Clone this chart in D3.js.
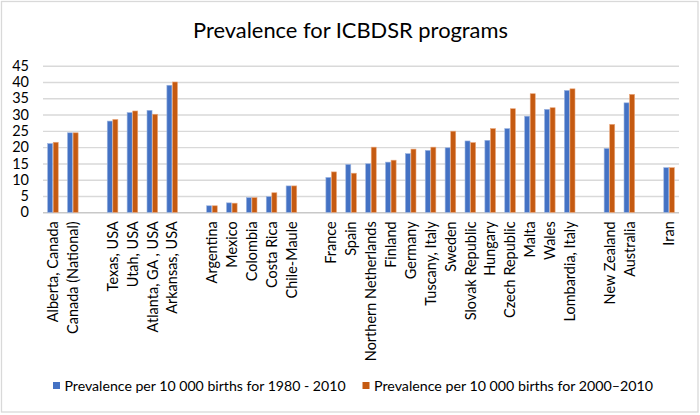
<!DOCTYPE html>
<html><head><meta charset="utf-8">
<script src="https://cdn.jsdelivr.net/npm/d3@7/dist/d3.min.js"></script>
<style>body{margin:0;background:#fff}svg{display:block;font-family:Lato,"Open Sans",sans-serif}</style>
</head><body><svg id="c" width="700" height="415"></svg>
<script>
const title = "Prevalence for ICBDSR programs";
const seriesNames = ["Prevalence per 10 000 births for 1980 - 2010", "Prevalence per 10 000 births for 2000\u20132010"];
const categories = ["Alberta, Canada","Canada (National)","",
  "Texas, USA","Utah, USA","Atlanta, GA , USA","Arkansas, USA","",
  "Argentina","Mexico","Colombia","Costa Rica","Chile-Maule","",
  "France","Spain","Northern Netherlands","Finland","Germany","Tuscany, Italy","Sweden","Slovak Republic","Hungary","Czech Republic","Malta","Wales","Lombardia, Italy","",
  "New Zealand","Australia","","Iran"];
const values1980 = [21.1,24.4,null, 28.0,30.6,31.3,39.0,null, 2.0,2.9,4.5,4.8,8.1,null,
  10.7,14.7,14.9,15.4,18.0,19.0,19.8,21.9,22.1,25.7,29.5,31.6,37.4,null, 19.6,33.6,null,13.7];
const values2000 = [21.5,24.4,null, 28.5,31.1,30.1,40.0,null, 2.0,2.8,4.5,6.0,8.1,null,
  12.4,12.0,20.0,16.0,19.4,20.0,24.9,21.4,25.7,31.8,36.4,32.1,37.9,null, 27.0,36.2,null,13.7];
const yTicks = [0,5,10,15,20,25,30,35,40,45];
const colors = ["#4472C4","#C55A11"];
const strokes = ["#9DB5E0","#E9A67A"];

const svg = d3.select("#c");
svg.append("rect").attr("x",1.5).attr("y",1.5).attr("width",696.5).attr("height",410.5)
  .attr("fill","#fff").attr("stroke","#d9d9d9").attr("stroke-width",1.3);

const m = {l:43, r:679, t:65.7, b:212.3};
const x = d3.scaleBand().domain(d3.range(categories.length)).range([m.l,m.r]).paddingInner(0).paddingOuter(0);
const y = d3.scaleLinear().domain([0,45]).range([m.b,m.t]);
const x1 = d3.scaleBand().domain([0,1]).range([-5.3,5.3]).paddingInner(0.1);

// gridlines
const yAxis = d3.axisLeft(y).tickValues(yTicks).tickSize(-(m.r-m.l)).tickPadding(14);
const gy = svg.append("g").attr("transform",`translate(${m.l},0)`).call(yAxis);
gy.select(".domain").remove();
gy.selectAll(".tick line").attr("stroke","#d9d9d9").attr("stroke-width",1.4);
gy.selectAll(".tick text").attr("fill","#000").style("font-size","14.5px").attr("font-family","Lato,'Open Sans',sans-serif");
gy.selectAll(".tick").filter(d=>d===0).select("line").attr("stroke","#c8c8c8");

// bars
const series = [values1980, values2000];
series.forEach((vals,si)=>{
  svg.append("g").selectAll("rect").data(vals.map((v,i)=>({v,i})).filter(d=>d.v!=null)).join("rect")
    .attr("x",d=>x(d.i)+x.bandwidth()/2+x1(si))
    .attr("width",x1.bandwidth())
    .attr("y",d=>y(d.v))
    .attr("height",d=>y(0)-y(d.v))
    .attr("fill",colors[si]).attr("stroke",strokes[si]).attr("stroke-width",0.6);
});

// x labels
const xAxis = d3.axisBottom(x).tickFormat(i=>categories[i]).tickSize(0).tickPadding(0);
const gx = svg.append("g").attr("transform",`translate(0,${m.b})`).call(xAxis);
gx.select(".domain").remove();
const labels = gx.selectAll(".tick text").attr("fill","#000").style("font-size","14px").attr("font-family","Lato,'Open Sans',sans-serif")
  .attr("transform","rotate(-90)").attr("text-anchor","end").attr("x",-9).attr("y",0).attr("dy","0.36em");
const ref = labels.filter(i=>i===0).node().getComputedTextLength();
labels.style("font-size",(14*101/ref).toFixed(2)+"px");

// title
const t = svg.append("text").attr("x",350.5).attr("y",38).attr("text-anchor","middle")
  .style("font-size","21px").attr("fill","#000").text(title);
const tw = t.node().getComputedTextLength();
t.style("font-size",(21*315/tw).toFixed(2)+"px");

// legend
const legX = [53,362.5];
seriesNames.forEach((n,i)=>{
  svg.append("rect").attr("x",legX[i]).attr("y",382).attr("width",7).attr("height",7).attr("fill",colors[i]);
  const lt = svg.append("text").attr("x",legX[i]+11.5).attr("y",391).style("font-size","14px").attr("fill","#000").text(n);
  const w = lt.node().getComputedTextLength();
  const target = i===0?281:279;
  lt.style("font-size",(14*target/w).toFixed(2)+"px");
});
</script></body></html>
